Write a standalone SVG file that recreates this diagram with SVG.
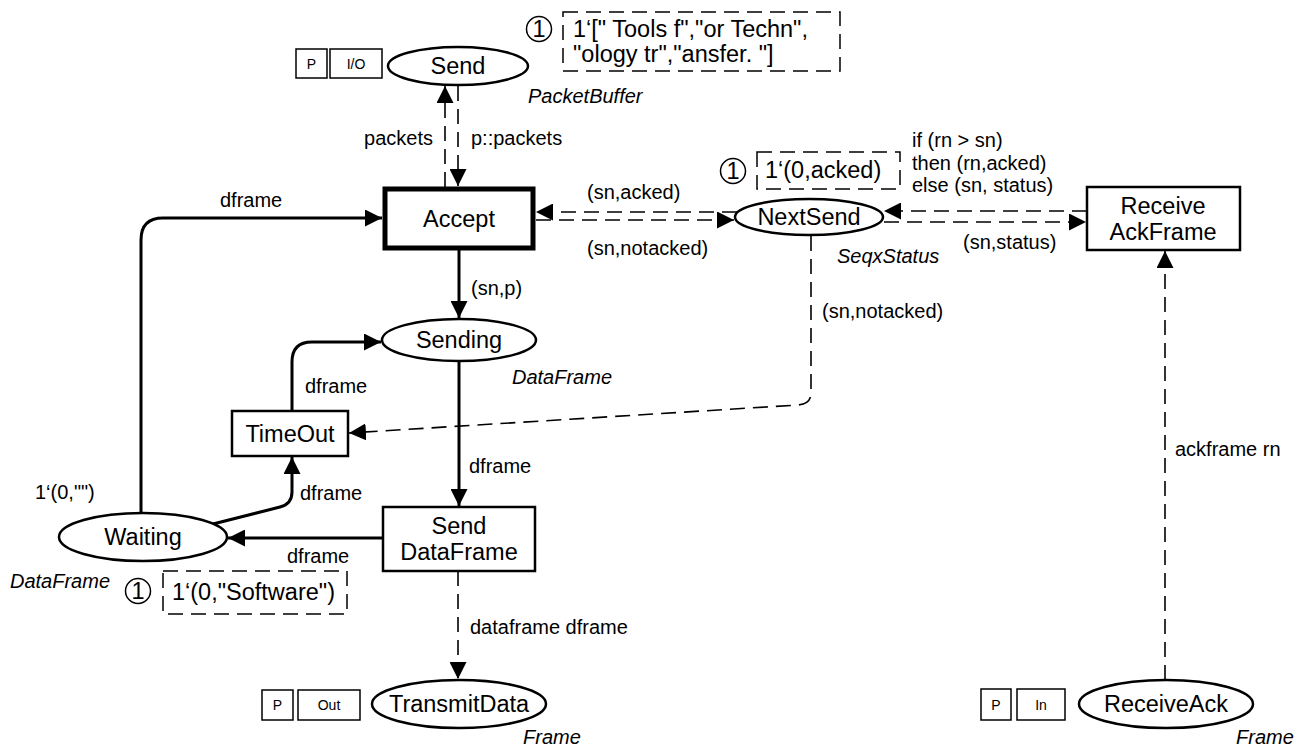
<svg xmlns="http://www.w3.org/2000/svg" width="1300" height="749" viewBox="0 0 1300 749">
<defs>
<marker id="ah" viewBox="0 0 10 10" refX="10" refY="5" markerWidth="17" markerHeight="17" markerUnits="userSpaceOnUse" orient="auto">
<path d="M0,0 L10,5 L0,10 z" fill="#000"/>
</marker>
</defs>
<style>
text{font-family:"Liberation Sans",Arial,sans-serif;fill:#000}
.nm{font-size:23.5px;text-anchor:middle;dominant-baseline:central}
.lb{font-size:20px}
.it{font-size:20px;font-style:italic}
.mt{font-size:23.5px}
.sm{font-size:14px;text-anchor:middle;dominant-baseline:central}
.pl{fill:#fff;stroke:#000;stroke-width:2.5}
.tr{fill:#fff;stroke:#000;stroke-width:2.5}
.tg{fill:#fff;stroke:#000;stroke-width:1.5}
.mk{fill:#fff;stroke:#000;stroke-width:1.5}
.mb{fill:none;stroke:#000;stroke-width:1.5;stroke-dasharray:15,8}
.sol{fill:none;stroke:#000;stroke-width:3;marker-end:url(#ah)}
.das{fill:none;stroke:#000;stroke-width:1.6;stroke-dasharray:15,8;marker-end:url(#ah)}
</style>

<g id="connectors">
<path class="das" d="M445,187 L445,86"/>
<path class="das" d="M458,86 L458,186"/>
<path class="sol" d="M141,513 L141,240 Q141,218 163,218 L382,218"/>
<path class="sol" d="M459,250 L459,318"/>
<path class="sol" d="M459,362 L459,506"/>
<path class="sol" d="M292,411 L292,362 Q292,342 312,342 L381,342"/>
<path class="das" d="M811,236 L811,393 Q811,404 798,405 L349,433"/>
<path class="sol" d="M213,524 L280,507 Q292,504 292,492 L292,457"/>
<path class="sol" d="M383,538 L228,538"/>
<path class="das" d="M458,571 L458,679"/>
<path class="das" d="M1165,680 L1165,251"/>
<path class="das" d="M737,212 L536,212"/>
<path class="das" d="M536,220 L734,220"/>
<path class="das" d="M1087,211 L884,211"/>
<path class="das" d="M884,222 L1086,222"/>
<text class="lb" x="433" y="145" text-anchor="end">packets</text>
<text class="lb" x="471" y="145">p::packets</text>
<text class="lb" x="220" y="207">dframe</text>
<text class="lb" x="471" y="295">(sn,p)</text>
<text class="lb" x="469" y="473">dframe</text>
<text class="lb" x="305" y="393">dframe</text>
<text class="lb" x="822" y="318">(sn,notacked)</text>
<text class="lb" x="300" y="500">dframe</text>
<text class="lb" x="287" y="563">dframe</text>
<text class="lb" x="470" y="634">dataframe dframe</text>
<text class="lb" x="1175" y="456">ackframe rn</text>
<text class="lb" x="587" y="199">(sn,acked)</text>
<text class="lb" x="587" y="255">(sn,notacked)</text>
<text class="lb" x="963" y="249">(sn,status)</text>
<text class="lb" x="912" y="147">if (rn &gt; sn)</text>
<text class="lb" x="912" y="170">then (rn,acked)</text>
<text class="lb" x="912" y="192">else (sn, status)</text>
<text class="lb" x="35" y="499">1‘(0,"")</text>
</g>

<g id="Send">
<rect class="tg" x="296" y="49" width="31" height="29"/>
<text class="sm" x="311.5" y="63.5">P</text>
<rect class="tg" x="330" y="49" width="52" height="29"/>
<text class="sm" x="356" y="63.5">I/O</text>
<ellipse class="pl" cx="458" cy="66" rx="70" ry="19"/>
<text class="nm" x="458" y="66">Send</text>
<text class="it" x="528" y="103">PacketBuffer</text>
<circle class="mk" cx="539" cy="29" r="12.5"/>
<text class="mt" x="539" y="37" text-anchor="middle">1</text>
<rect class="mb" x="563" y="12" width="277" height="59"/>
<text class="mt" x="573" y="37">1‘[" Tools f","or Techn",</text>
<text class="mt" x="573" y="62">"ology tr","ansfer. "]</text>
</g>

<g id="Accept">
<rect fill="#fff" stroke="#000" stroke-width="5" x="385" y="189" width="148" height="59"/>
<text class="nm" x="459" y="219">Accept</text>
</g>

<g id="NextSend">
<ellipse class="pl" cx="809" cy="217" rx="74" ry="18"/>
<text class="nm" x="809" y="217">NextSend</text>
<text class="it" x="837" y="263">SeqxStatus</text>
<circle class="mk" cx="733" cy="171" r="12.5"/>
<text class="mt" x="733" y="179" text-anchor="middle">1</text>
<rect class="mb" x="757" y="152" width="143" height="37"/>
<text class="mt" x="765" y="178">1‘(0,acked)</text>
</g>

<g id="ReceiveAckFrame">
<rect class="tr" x="1087" y="187" width="153" height="63"/>
<text class="nm" x="1163" y="206">Receive</text>
<text class="nm" x="1163" y="232">AckFrame</text>
</g>

<g id="Sending">
<ellipse class="pl" cx="459" cy="340" rx="77" ry="21"/>
<text class="nm" x="459" y="340">Sending</text>
<text class="it" x="512" y="384">DataFrame</text>
</g>

<g id="TimeOut">
<rect class="tr" x="232" y="411" width="116" height="45"/>
<text class="nm" x="290" y="433.5">TimeOut</text>
</g>

<g id="Waiting">
<ellipse class="pl" cx="143" cy="537" rx="84" ry="24"/>
<text class="nm" x="143" y="537">Waiting</text>
<text class="it" x="10" y="588">DataFrame</text>
<circle class="mk" cx="138" cy="591" r="12.5"/>
<text class="mt" x="138" y="599" text-anchor="middle">1</text>
<rect class="mb" x="163" y="571" width="184" height="43"/>
<text class="mt" x="172" y="600">1‘(0,"Software")</text>
</g>

<g id="SendDataFrame">
<rect class="tr" x="383" y="507" width="152" height="64"/>
<text class="nm" x="459" y="526">Send</text>
<text class="nm" x="459" y="552">DataFrame</text>
</g>

<g id="TransmitData">
<rect class="tg" x="262" y="690" width="31" height="30"/>
<text class="sm" x="277.5" y="705">P</text>
<rect class="tg" x="298" y="690" width="62" height="30"/>
<text class="sm" x="329" y="705">Out</text>
<ellipse class="pl" cx="459" cy="704" rx="87" ry="24"/>
<text class="nm" x="459" y="704">TransmitData</text>
<text class="it" x="523" y="744">Frame</text>
</g>

<g id="ReceiveAck">
<rect class="tg" x="981" y="689" width="30" height="31"/>
<text class="sm" x="996" y="704.5">P</text>
<rect class="tg" x="1017" y="689" width="48" height="31"/>
<text class="sm" x="1041" y="704.5">In</text>
<ellipse class="pl" cx="1166" cy="704" rx="87" ry="24"/>
<text class="nm" x="1166" y="704">ReceiveAck</text>
<text class="it" x="1236" y="744">Frame</text>
</g>
</svg>
